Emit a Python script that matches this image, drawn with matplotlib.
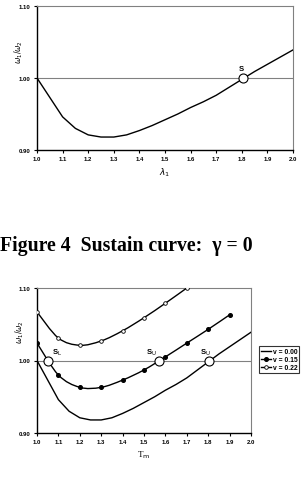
import numpy as np
import matplotlib
matplotlib.use('Agg')
import matplotlib.pyplot as plt
from matplotlib.path import Path
from matplotlib.patches import PathPatch
from matplotlib.lines import Line2D

# v = 0.00 curve (read at 0.05 steps)
x0 = [1.00, 1.05, 1.10, 1.15, 1.20, 1.25, 1.30, 1.35, 1.40, 1.45, 1.50,
      1.55, 1.60, 1.65, 1.70, 1.75, 1.80, 1.85, 1.90, 1.95, 2.00]
y0 = [1.000, 0.973, 0.946, 0.930, 0.921, 0.918, 0.918, 0.921, 0.927, 0.934, 0.942,
      0.950, 0.959, 0.967, 0.976, 0.987, 0.998, 1.009, 1.019, 1.029, 1.039]

# v = 0.15
x15 = [1.0, 1.1, 1.2, 1.3, 1.4, 1.5, 1.6, 1.7, 1.8, 1.9]
y15 = [1.024, 0.980, 0.963, 0.963, 0.973, 0.987, 1.005, 1.024, 1.043, 1.063]

# v = 0.22
x22 = [1.0, 1.1, 1.2, 1.3, 1.4, 1.5, 1.6, 1.7]
y22 = [1.067, 1.031, 1.021, 1.027, 1.041, 1.059, 1.079, 1.100]

# sustain points
s_top = [(1.806, 1.0, 'S', 1.79, 1.011)]
s_bot = [(1.05, 1.0, 'S$_{\\rm L}$', 1.07, 1.010),
         (1.57, 1.0, 'S$_{\\rm U}$', 1.51, 1.010),
         (1.805, 1.0, 'S$_{\\rm U}$', 1.76, 1.010)]

xticks = [1.0, 1.1, 1.2, 1.3, 1.4, 1.5, 1.6, 1.7, 1.8, 1.9, 2.0]
yticks = [0.90, 1.00, 1.10]

tick_font = dict(family='Liberation Sans', weight='bold', size=4.3)


def smooth_path(ax, xs, ys, **kw):
    # Excel-style smoothed line (Catmull-Rom -> cubic Bezier)
    pts = np.column_stack([xs, ys])
    verts = [pts[0]]
    codes = [Path.MOVETO]
    n = len(pts)
    for i in range(n - 1):
        p0 = pts[max(i - 1, 0)]
        p1 = pts[i]
        p2 = pts[i + 1]
        p3 = pts[min(i + 2, n - 1)]
        c1 = p1 + (p2 - p0) / 6.0
        c2 = p2 - (p3 - p1) / 6.0
        verts += [c1, c2, p2]
        codes += [Path.CURVE4] * 3
    ax.add_patch(PathPatch(Path(verts, codes), fill=False, **kw))


def style_axes(ax):
    ax.set_xlim(1.0, 2.0)
    ax.set_ylim(0.90, 1.10)
    ax.set_xticks(xticks)
    ax.set_yticks(yticks)
    ax.set_xticklabels(['%.1f' % t for t in xticks], fontdict=tick_font)
    ax.set_yticklabels(['%.2f' % t for t in yticks], fontdict=tick_font)
    ax.tick_params(direction='out', length=2.5, width=0.8, pad=2)
    for s in ['left', 'bottom']:
        ax.spines[s].set_color('black')
        ax.spines[s].set_linewidth(1.0)
    for s in ['top', 'right']:
        ax.spines[s].set_color('#808080')
        ax.spines[s].set_linewidth(0.8)
    ax.axhline(1.0, color='#808080', lw=0.8, zorder=1)
    ax.set_ylabel(r'$\omega_1/\omega_2$', fontsize=5.5, labelpad=2)


fig = plt.figure(figsize=(3.04, 5.02), dpi=100)

# top chart
ax1 = fig.add_axes([37 / 304, 1 - 151 / 502, 256 / 304, 144 / 502])
style_axes(ax1)
ax1.plot(x0, y0, color='black', lw=1.0, zorder=3)
for cx, cy, lab, tx, ty in s_top:
    ax1.plot(cx, cy, 'o', ms=6.5, mfc='white', mec='black', mew=0.8, zorder=5)
    ax1.text(tx, ty, lab, fontsize=5.5, fontweight='bold', family='Liberation Sans')
ax1.set_xlabel(r'$\lambda_1$', fontsize=6.5, labelpad=3)
ax1.yaxis.set_label_coords(-0.045, 0.69)

fig.text(0.0, 1 - 246 / 502, 'Figure 4  Sustain curve:  \u03b3 = 0',
         family='Liberation Serif', weight='bold', fontsize=14.2, va='center', ha='left')

# bottom chart
ax2 = fig.add_axes([37 / 304, 1 - 434 / 502, 214 / 304, 145 / 502])
style_axes(ax2)
ax2.plot(x0, y0, color='black', lw=1.0, zorder=3)
smooth_path(ax2, x15, y15, color='black', lw=1.0, zorder=3)
ax2.plot(x15, y15, 'o', ms=2.6, mfc='black', mec='black', zorder=4)
smooth_path(ax2, x22, y22, color='black', lw=1.0, zorder=3)
ax2.plot(x22, y22, 'o', ms=2.6, mfc='white', mec='black', mew=0.6, zorder=4)
for cx, cy, lab, tx, ty in s_bot:
    ax2.plot(cx, cy, 'o', ms=6.5, mfc='white', mec='black', mew=0.8, zorder=5)
    ax2.text(tx, ty, lab, fontsize=5.5, fontweight='bold', family='Liberation Sans')
ax2.set_xlabel(r'T$_{\rm m}$', fontsize=6.5, family='Liberation Serif', labelpad=3)
ax2.yaxis.set_label_coords(-0.052, 0.7)

handles = [Line2D([], [], color='black', lw=1.0),
           Line2D([], [], color='black', lw=1.0, marker='o', ms=2.6, mfc='black'),
           Line2D([], [], color='black', lw=1.0, marker='o', ms=2.6, mfc='white', mew=0.6)]
labels = ['v = 0.00', 'v = 0.15', 'v = 0.22']
leg = fig.legend(handles, labels, loc='upper left',
                 bbox_to_anchor=(259 / 304, 1 - 347 / 502),
                 prop=dict(family='Liberation Sans', weight='bold', size=4.9),
                 frameon=True, fancybox=False, edgecolor='black',
                 handlelength=1.4, handletextpad=0.3, borderpad=0.3,
                 labelspacing=0.15, borderaxespad=0)
leg.get_frame().set_linewidth(0.8)

fig.savefig('out.png', dpi=100)
